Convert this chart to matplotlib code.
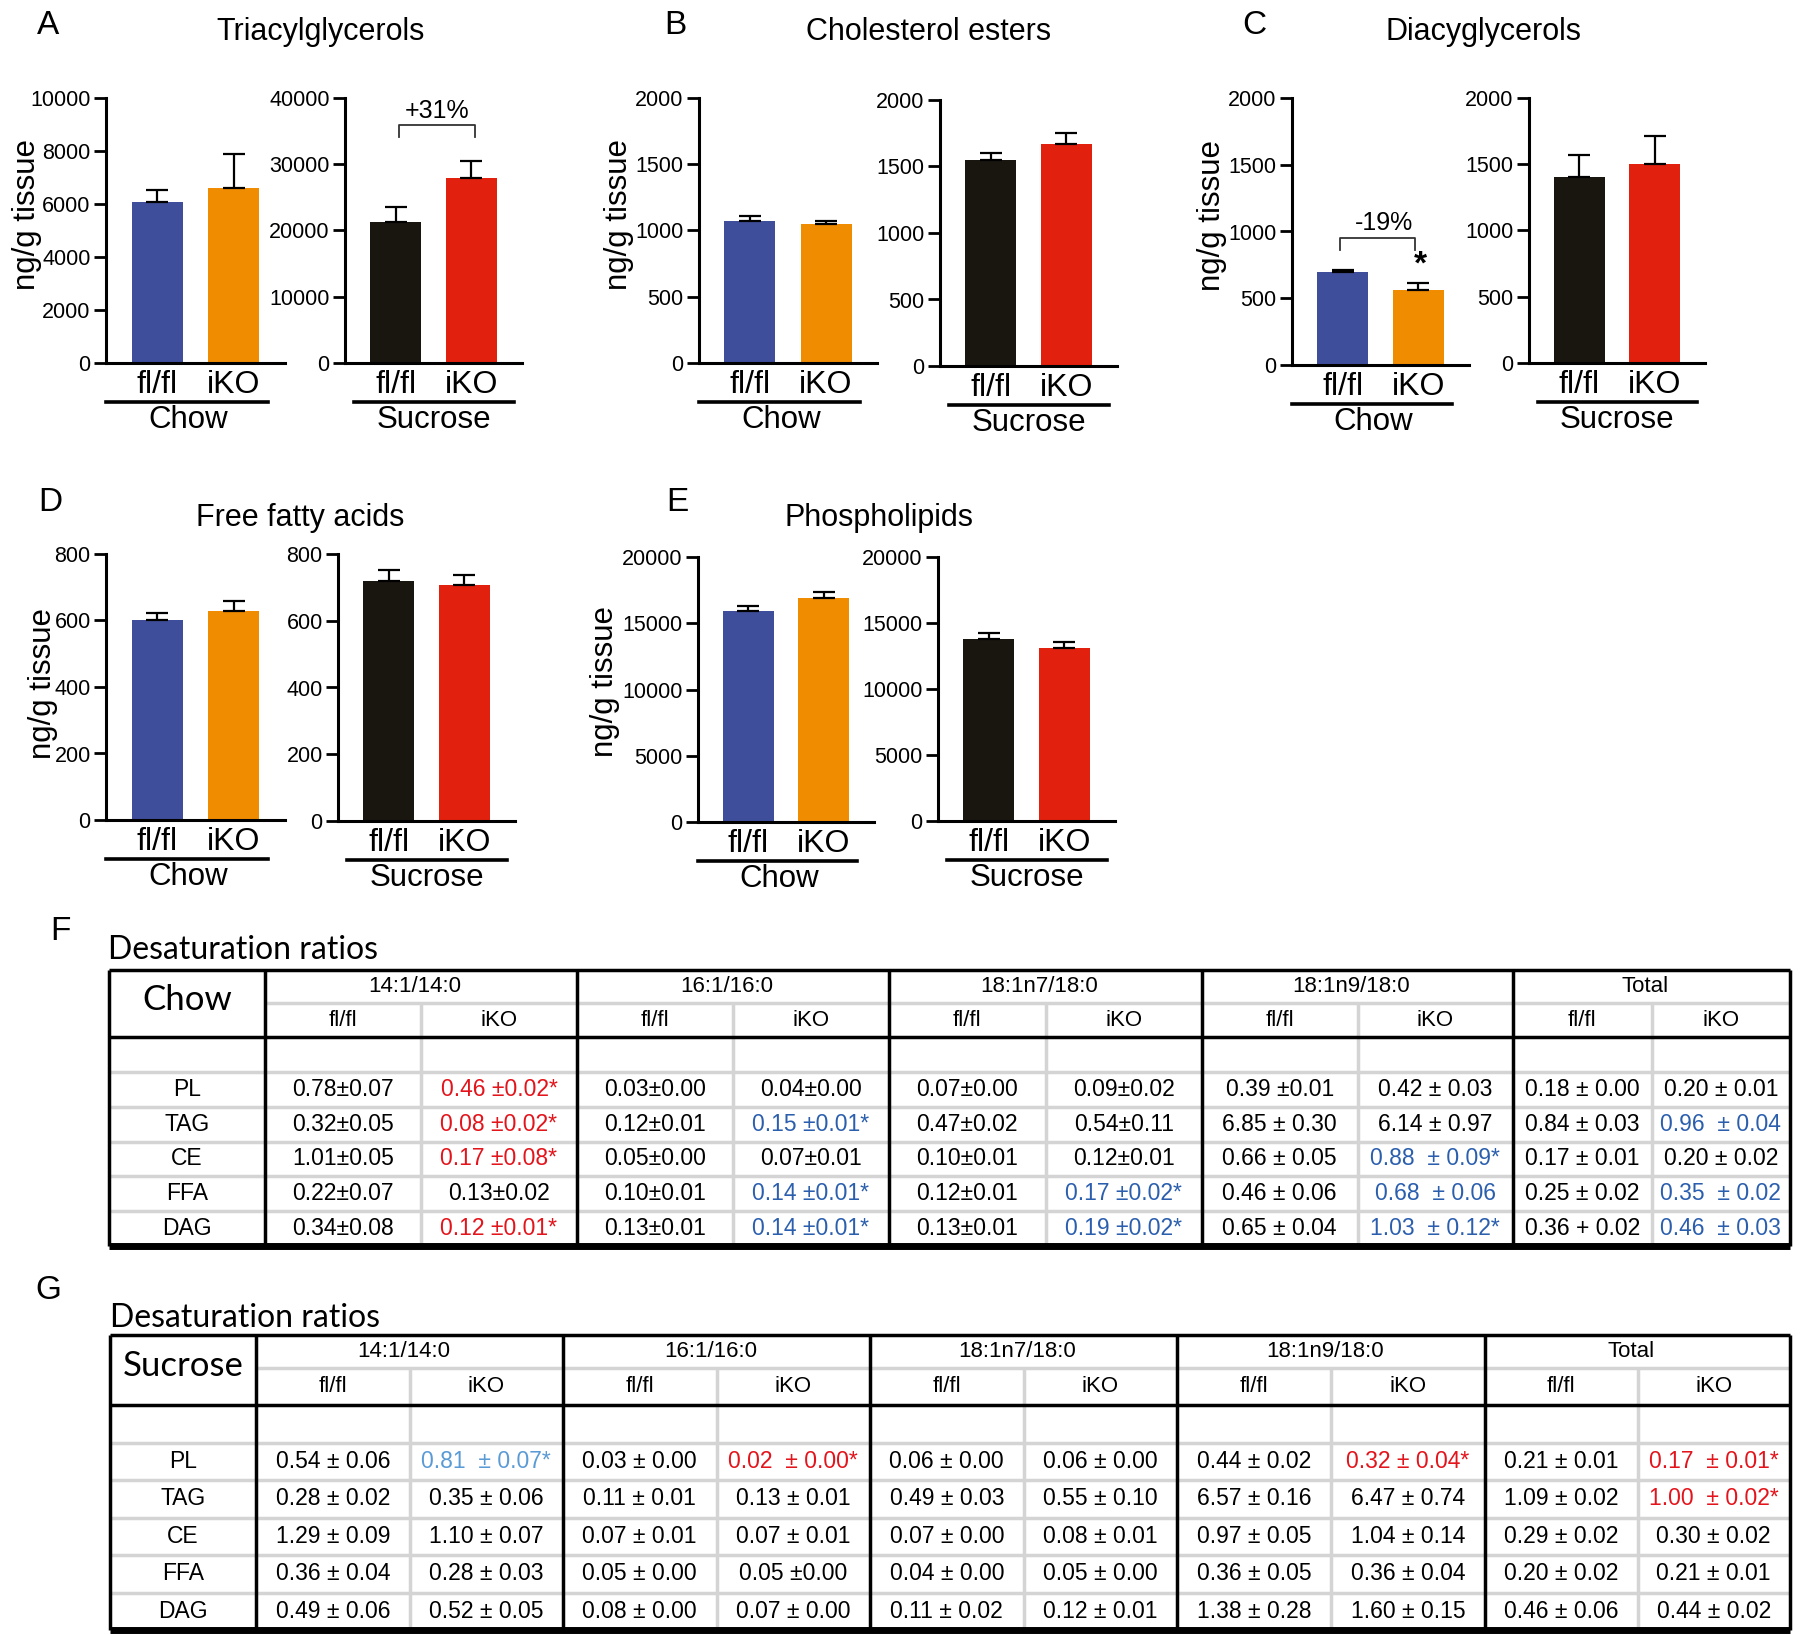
import matplotlib
matplotlib.use('Agg')
import matplotlib.pyplot as plt
from matplotlib import font_manager

W, H = 1800, 1635
plt.rcParams['font.family'] = ['Liberation Sans', 'DejaVu Sans']

genotypes = ['fl/fl', 'iKO']
diets = ['Chow', 'Sucrose']
chow_colors = ['#3f4e9b', '#f08c00']
sucrose_colors = ['#19150f', '#e2200e']

# ng/g tissue, mean and SEM for [fl/fl, iKO]
tag_chow, tag_chow_sem = [6080, 6590], [430, 1310]
tag_sucrose, tag_sucrose_sem = [21300, 27900], [2250, 2600]
ce_chow, ce_chow_sem = [1074, 1049], [37, 25]
ce_sucrose, ce_sucrose_sem = [1548, 1667], [51, 82]
dag_chow, dag_chow_sem = [695, 562], [17, 55]
dag_sucrose, dag_sucrose_sem = [1406, 1504], [161, 207]
ffa_chow, ffa_chow_sem = [600, 628], [24, 31]
ffa_sucrose, ffa_sucrose_sem = [719, 706], [33, 32]
pl_chow, pl_chow_sem = [15890, 16900], [380, 430]
pl_sucrose, pl_sucrose_sem = [13800, 13070], [455, 455]

# desaturation ratio tables, one list per ratio group, rows PL, TAG, CE, FFA, DAG
ratio_groups = ['14:1/14:0', '16:1/16:0', '18:1n7/18:0', '18:1n9/18:0', 'Total']
lipid_rows = ['PL', 'TAG', 'CE', 'FFA', 'DAG']

chow_flfl = [
    ['0.78±0.07', '0.32±0.05', '1.01±0.05', '0.22±0.07', '0.34±0.08'],
    ['0.03±0.00', '0.12±0.01', '0.05±0.00', '0.10±0.01', '0.13±0.01'],
    ['0.07±0.00', '0.47±0.02', '0.10±0.01', '0.12±0.01', '0.13±0.01'],
    ['0.39 ±0.01', '6.85 ± 0.30', '0.66 ± 0.05', '0.46 ± 0.06', '0.65 ± 0.04'],
    ['0.18 ± 0.00', '0.84 ± 0.03', '0.17 ± 0.01', '0.25 ± 0.02', '0.36 + 0.02'],
]
chow_iko = [
    ['0.46 ±0.02*', '0.08 ±0.02*', '0.17 ±0.08*', '0.13±0.02', '0.12 ±0.01*'],
    ['0.04±0.00', '0.15 ±0.01*', '0.07±0.01', '0.14 ±0.01*', '0.14 ±0.01*'],
    ['0.09±0.02', '0.54±0.11', '0.12±0.01', '0.17 ±0.02*', '0.19 ±0.02*'],
    ['0.42 ± 0.03', '6.14 ± 0.97', '0.88  ± 0.09*', '0.68  ± 0.06', '1.03  ± 0.12*'],
    ['0.20 ± 0.01', '0.96  ± 0.04', '0.20 ± 0.02', '0.35  ± 0.02', '0.46  ± 0.03'],
]
chow_iko_colour = ['rrrkr', 'kbkbb', 'kkkbb', 'kkbbb', 'kbkbb']

sucrose_flfl = [
    ['0.54 ± 0.06', '0.28 ± 0.02', '1.29 ± 0.09', '0.36 ± 0.04', '0.49 ± 0.06'],
    ['0.03 ± 0.00', '0.11 ± 0.01', '0.07 ± 0.01', '0.05 ± 0.00', '0.08 ± 0.00'],
    ['0.06 ± 0.00', '0.49 ± 0.03', '0.07 ± 0.00', '0.04 ± 0.00', '0.11 ± 0.02'],
    ['0.44 ± 0.02', '6.57 ± 0.16', '0.97 ± 0.05', '0.36 ± 0.05', '1.38 ± 0.28'],
    ['0.21 ± 0.01', '1.09 ± 0.02', '0.29 ± 0.02', '0.20 ± 0.02', '0.46 ± 0.06'],
]
sucrose_iko = [
    ['0.81  ± 0.07*', '0.35 ± 0.06', '1.10 ± 0.07', '0.28 ± 0.03', '0.52 ± 0.05'],
    ['0.02  ± 0.00*', '0.13 ± 0.01', '0.07 ± 0.01', '0.05 ±0.00', '0.07 ± 0.00'],
    ['0.06 ± 0.00', '0.55 ± 0.10', '0.08 ± 0.01', '0.05 ± 0.00', '0.12 ± 0.01'],
    ['0.32 ± 0.04*', '6.47 ± 0.74', '1.04 ± 0.14', '0.36 ± 0.04', '1.60 ± 0.15'],
    ['0.17  ± 0.01*', '1.00  ± 0.02*', '0.30 ± 0.02', '0.21 ± 0.01', '0.44 ± 0.02'],
]
sucrose_iko_colour = ['ckkkk', 'rkkkk', 'kkkkk', 'rkkkk', 'rrkkk']

colour_map = {'k': 'black', 'r': '#e3141b', 'b': '#2b5fae', 'c': '#5b9bd5'}

installed = {f.name for f in font_manager.fontManager.ttflist}
if 'Liberation Sans Narrow' in installed:
    cell_font, cell_size = ['Liberation Sans Narrow', 'DejaVu Sans'], 19
else:
    cell_font, cell_size = ['Liberation Sans', 'DejaVu Sans'], 16.5
head_font = ['Lato', 'DejaVu Sans']

fig = plt.figure(figsize=(W / 100, H / 100), dpi=100)

# overlay in pixel units for tables and free text
tab = fig.add_axes([0, 0, 1, 1])
tab.set_xlim(0, W)
tab.set_ylim(H, 0)
tab.axis('off')


def px_axes(box):
    x0, y0, x1, y1 = box
    return fig.add_axes([x0 / W, 1 - y1 / H, (x1 - x0) / W, (y1 - y0) / H])


def bar_panel(ax, vals, sems, ymax, step, colors, diet, k):
    ax.bar([0, 1], vals, width=0.67, color=colors, zorder=2)
    ax.errorbar([0, 1], vals, yerr=[[0, 0], sems], fmt='none', ecolor='black',
                elinewidth=1.6, capsize=8, capthick=1.6, zorder=3)
    ax.set_xlim(-0.67, 1.67)
    ax.set_ylim(0, ymax)
    ax.set_yticks(range(0, ymax + 1, step))
    ax.set_xticks([0, 1], genotypes)
    ax.tick_params(axis='x', length=0, pad=5, labelsize=23)
    ax.tick_params(axis='y', length=9, width=2, labelsize=15.5, pad=2)
    for s in ['top', 'right']:
        ax.spines[s].set_visible(False)
    for s in ['left', 'bottom']:
        ax.spines[s].set_linewidth(2.2)
    ax.patch.set_alpha(0)
    x0, x1, xc = [(0.0, 0.905, 0.46), (0.05, 0.955, 0.5)][k]
    ax.plot([x0, x1], [-0.147, -0.147], transform=ax.transAxes, clip_on=False,
            color='black', lw=2.6)
    ax.text(xc, -0.215, diet, transform=ax.transAxes, ha='center', va='center',
            fontsize=22.5)


panels = [
    ('A', 'Triacylglycerols', (48, 25), (321, 32), 27, 0.56,
     [(106, 98, 285, 363), (345, 98, 522, 363)],
     [(tag_chow, tag_chow_sem, 10000, 2000), (tag_sucrose, tag_sucrose_sem, 40000, 10000)]),
    ('B', 'Cholesterol esters', (675, 25), (929, 32), 619, 0.56,
     [(699, 98, 877, 363), (940, 100, 1117, 366)],
     [(ce_chow, ce_chow_sem, 2000, 500), (ce_sucrose, ce_sucrose_sem, 2000, 500)]),
    ('C', 'Diacyglycerols', (1254, 25), (1483, 32), 1212, 0.56,
     [(1292, 98, 1469, 365), (1529, 98, 1705, 363)],
     [(dag_chow, dag_chow_sem, 2000, 500), (dag_sucrose, dag_sucrose_sem, 2000, 500)]),
    ('D', 'Free fatty acids', (50, 502), (300, 518), 43, 0.515,
     [(106, 554, 285, 820), (338, 554, 515, 821)],
     [(ffa_chow, ffa_chow_sem, 800, 200), (ffa_sucrose, ffa_sucrose_sem, 800, 200)]),
    ('E', 'Phospholipids', (677, 502), (879, 518), 605, 0.53,
     [(698, 557, 874, 822), (938, 557, 1115, 821)],
     [(pl_chow, pl_chow_sem, 20000, 5000), (pl_sucrose, pl_sucrose_sem, 20000, 5000)]),
]

axes = {}
for letter, title, lxy, txy, ylx, yly, boxes, data in panels:
    tab.text(lxy[0], lxy[1], letter, fontsize=24, ha='center', va='center')
    tab.text(txy[0], txy[1], title, fontsize=22, ha='center', va='center')
    for k, (box, (vals, sems, ymax, step)) in enumerate(zip(boxes, data)):
        ax = px_axes(box)
        bar_panel(ax, vals, sems, ymax, step, [chow_colors, sucrose_colors][k], diets[k], k)
        axes[letter + str(k)] = ax
        if k == 0:
            ax.text((ylx - box[0]) / (box[2] - box[0]), yly, 'ng/g tissue',
                    transform=ax.transAxes, rotation=90, ha='center', va='center',
                    fontsize=22.5)

# significance brackets
ax = axes['A1']
ax.plot([0.05, 0.05, 1.05, 1.05], [34100, 35900, 35900, 34100], color='#333333',
        lw=1.3, clip_on=False)
ax.text(0.55, 38100, '+31%', ha='center', va='center', fontsize=18)
ax = axes['C0']
ax.plot([-0.035, -0.035, 0.95, 0.95], [861, 951, 951, 861], color='#333333',
        lw=1.3, clip_on=False)
ax.text(0.55, 1066, '-19%', ha='center', va='center', fontsize=18)
ax.text(1.03, 745, '*', ha='center', va='center', fontsize=24, fontweight='bold')


def draw_table(top, head1, head, bottom, edges, diet, flfl, iko, iko_colour):
    left, first, right = edges[0], edges[1], edges[-1]
    n_body = len(lipid_rows) + 1
    row_h = (bottom - head) / n_body
    grey = '#d4d4d4'
    tab.hlines(head1, first, right, color=grey, lw=2.5)
    for i in range(1, n_body):
        tab.hlines(head + i * row_h, left, right, color=grey, lw=2.5)
    for g in range(len(ratio_groups)):
        tab.vlines((edges[g + 1] + edges[g + 2]) / 2, head1, bottom, color=grey, lw=2.5)
    tab.vlines(edges, top, bottom, color='black', lw=2.5)
    tab.hlines([top, head], left, right, color='black', lw=2.5)
    tab.hlines(bottom, left, right, color='black', lw=5)

    tab.text((left + first) / 2, (top + head) / 2 - 4, diet, family=head_font,
             fontsize=25, ha='center', va='center')
    for r, name in enumerate(lipid_rows):
        tab.text((left + first) / 2, head + (r + 1.5) * row_h, name, family=cell_font,
                 fontsize=cell_size, ha='center', va='center')
    for g, name in enumerate(ratio_groups):
        x0, x1 = edges[g + 1], edges[g + 2]
        tab.text((x0 + x1) / 2 - 6, (top + head1) / 2, name, family=cell_font,
                 fontsize=cell_size - 0.5, ha='center', va='center')
        for k, gt in enumerate(genotypes):
            cx = x0 + (k + 0.5) * (x1 - x0) / 2
            tab.text(cx, (head1 + head) / 2, gt, family=cell_font,
                     fontsize=cell_size - 0.5, ha='center', va='center')
            cells = [flfl, iko][k][g]
            for r, s in enumerate(cells):
                c = 'k' if k == 0 else iko_colour[g][r]
                tab.text(cx, head + (r + 1.5) * row_h, s, family=cell_font,
                         fontsize=cell_size, color=colour_map[c], ha='center',
                         va='center')


tab.text(60, 931, 'F', fontsize=24, ha='center', va='center')
tab.text(108, 950, 'Desaturation ratios', family=head_font, fontsize=23,
         ha='left', va='center')
draw_table(970, 1003, 1037, 1246, [109, 265, 577, 889, 1202, 1513, 1790],
           'Chow', chow_flfl, chow_iko, chow_iko_colour)

tab.text(48, 1290, 'G', fontsize=24, ha='center', va='center')
tab.text(110, 1318, 'Desaturation ratios', family=head_font, fontsize=23,
         ha='left', va='center')
draw_table(1335, 1368, 1405, 1630, [110, 256, 563, 870, 1177, 1485, 1790],
           'Sucrose', sucrose_flfl, sucrose_iko, sucrose_iko_colour)

fig.savefig('out.png', dpi=100)
